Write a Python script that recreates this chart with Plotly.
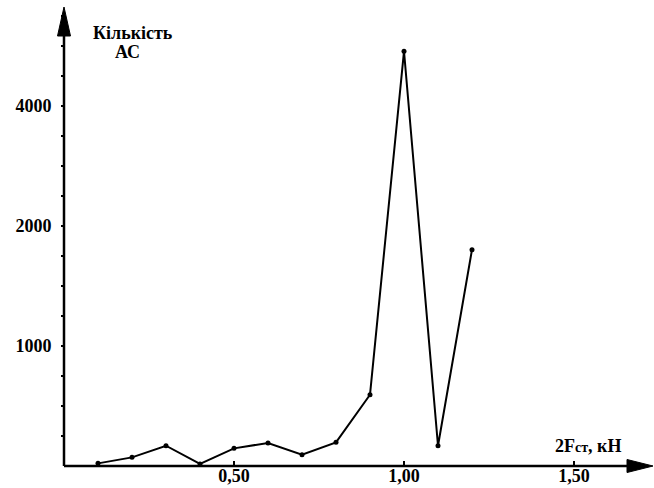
import plotly.graph_objects as go

# Data (y in axis units: 120 px per 1000 below the "2000" mark)
force_kn = [0.1, 0.2, 0.3, 0.4, 0.5, 0.6, 0.7, 0.8, 0.9, 1.0, 1.1, 1.2]
count_ac = [22, 72, 169, 17, 147, 192, 94, 197, 594, 3456, 169, 1803]

x_tick_vals = [0.5, 1.0, 1.5]
x_tick_text = ["0,50", "1,00", "1,50"]
y_label_vals = [1000, 2000, 3000]
y_label_text = ["1000", "2000", "4000"]
y_minor_vals = [i * 250 for i in range(1, 16)]

FONT = "Liberation Serif"
W, H = 654, 488
X0_PX, Y0_PX = 64, 466       # pixel of data origin
PX_PER_X = 340               # px per 1.0 kN
PX_PER_Y = 0.12              # px per unit

x_lo = -X0_PX / PX_PER_X
x_hi = (W - X0_PX) / PX_PER_X
y_lo = -(H - Y0_PX) / PX_PER_Y
y_hi = Y0_PX / PX_PER_Y

X_TIP = (653 - X0_PX) / PX_PER_X
Y_TIP = (Y0_PX - 7) / PX_PER_Y

fig = go.Figure()
fig.add_trace(go.Scatter(
    x=force_kn, y=count_ac, mode="lines+markers",
    line=dict(color="black", width=2),
    marker=dict(color="black", size=5),
    showlegend=False, hoverinfo="skip",
))

y_ticktext = [y_label_text[y_label_vals.index(v)] if v in y_label_vals else "" for v in y_minor_vals]

fig.update_layout(
    width=W, height=H,
    margin=dict(l=0, r=0, t=0, b=0),
    paper_bgcolor="white", plot_bgcolor="white",
    font=dict(family=FONT, size=18, color="black"),
    xaxis=dict(range=[x_lo, x_hi], showgrid=False, zeroline=False, showline=False,
               anchor="free", position=(H - Y0_PX) / H, automargin=False,
               tickvals=x_tick_vals, ticktext=x_tick_text, ticks="inside",
               ticklen=5, tickwidth=2, tickcolor="black", ticklabelstandoff=-3,
               tickfont=dict(family=FONT, size=18, color="black", weight="bold")),
    yaxis=dict(range=[y_lo, y_hi], showgrid=False, zeroline=False, showline=False,
               anchor="free", position=X0_PX / W, automargin=False,
               tickvals=y_minor_vals, ticktext=y_ticktext, ticks="outside",
               ticklen=3, tickwidth=2, tickcolor="black", ticklabelstandoff=6,
               tickfont=dict(family=FONT, size=18, color="black", weight="bold")),
)

# axes with arrows
fig.add_shape(type="line", xref="x", yref="y", x0=0, y0=0, x1=X_TIP - 20 / PX_PER_X, y1=0,
              line=dict(color="black", width=2.5))
fig.add_shape(type="line", xref="x", yref="y", x0=0, y0=0, x1=0, y1=Y_TIP - 20 / PX_PER_Y,
              line=dict(color="black", width=2.5))
hx = 26 / PX_PER_X
hy = 6.5 / PX_PER_Y
fig.add_shape(type="path", xref="x", yref="y",
              path=f"M {X_TIP - hx},{hy} L {X_TIP},0 L {X_TIP - hx},{-hy} Z",
              fillcolor="black", line=dict(color="black", width=1))
vx = 6.5 / PX_PER_X
vy = 29 / PX_PER_Y
fig.add_shape(type="path", xref="x", yref="y",
              path=f"M {-vx},{Y_TIP - vy} L 0,{Y_TIP} L {vx},{Y_TIP - vy} Z",
              fillcolor="black", line=dict(color="black", width=1))

fig.add_annotation(xref="paper", yref="paper", x=133 / W, y=1 - 33 / H,
                   text="<b>Кількість</b>", showarrow=False,
                   xanchor="center", yanchor="middle",
                   font=dict(family=FONT, size=18, color="black"))
fig.add_annotation(xref="paper", yref="paper", x=127 / W, y=1 - 52 / H,
                   text="<b>АС</b>", showarrow=False,
                   xanchor="center", yanchor="middle",
                   font=dict(family=FONT, size=18, color="black"))
fig.add_annotation(xref="paper", yref="paper", x=588 / W, y=1 - 446 / H,
                   text="<b>2F<span style='font-size:14px'>ст</span>, кН</b>", showarrow=False,
                   xanchor="center", yanchor="middle",
                   font=dict(family=FONT, size=18, color="black"))

fig.write_html("out.html", config={"displayModeBar": False},
               post_script="document.body.style.margin='0';document.body.style.overflow='hidden';")
